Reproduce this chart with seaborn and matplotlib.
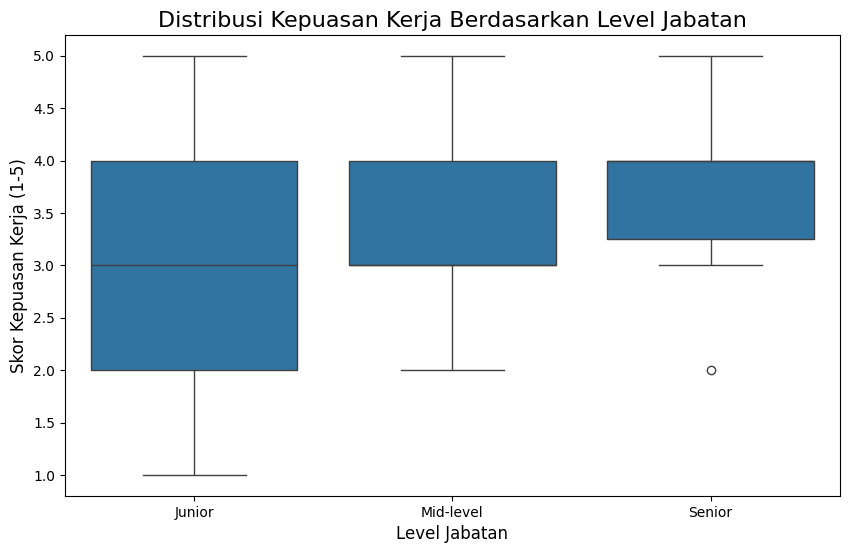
import pandas as pd
import matplotlib.pyplot as plt
import seaborn as sns

# Skor kepuasan per level jabatan
level_order = ["Junior", "Mid-level", "Senior"]
skor_junior = [1, 2, 2, 3, 3, 3, 4, 4, 5]
skor_mid = [2, 3, 3, 3, 4, 4, 5]
skor_senior = [2, 3, 4, 4, 4, 5]

df = pd.DataFrame({
    "Level": ["Junior"] * len(skor_junior) + ["Mid-level"] * len(skor_mid) + ["Senior"] * len(skor_senior),
    "Skor": skor_junior + skor_mid + skor_senior,
})

fig, ax = plt.subplots(figsize=(8.5, 5.53), dpi=100)
fig.subplots_adjust(left=0.0765, right=0.988, top=0.937, bottom=0.103)

sns.boxplot(data=df, x="Level", y="Skor", order=level_order, ax=ax)

ax.set_title("Distribusi Kepuasan Kerja Berdasarkan Level Jabatan", fontsize=16)
ax.set_xlabel("Level Jabatan", fontsize=12)
ax.set_ylabel("Skor Kepuasan Kerja (1-5)", fontsize=12)

plt.savefig("out.png")
